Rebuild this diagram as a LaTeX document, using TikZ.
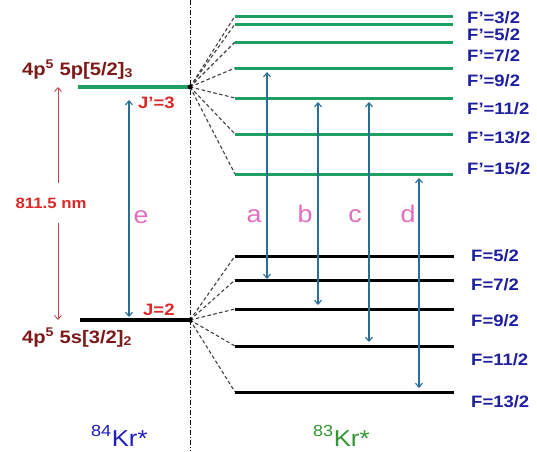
\documentclass[tikz,border=0pt]{standalone}
\usepackage{fontspec}
\setmainfont[FakeStretch=1.12]{Liberation Sans}
\usetikzlibrary{arrows.meta}
\definecolor{lvgreen}{RGB}{30,160,100}
\definecolor{maroon}{RGB}{125,25,25}
\definecolor{jred}{RGB}{220,40,40}
\definecolor{arrblue}{RGB}{40,110,150}
\definecolor{arrred}{RGB}{190,70,80}
\definecolor{flblue}{RGB}{30,30,160}
\definecolor{pinkl}{RGB}{225,110,190}
\definecolor{krblue}{RGB}{30,30,190}
\definecolor{krgreen}{RGB}{50,150,50}
\tikzset{
  upperlv/.style={draw=lvgreen, line width=3pt},
  lowerlv/.style={draw=black, line width=3pt},
  splitln/.style={draw=black!75, line width=1.1pt, dash pattern=on 3.5pt off 2.5pt},
  trans/.style={draw=arrblue, line width=1.1pt,
    arrows={Straight Barb[length=4pt,width=7pt]-Straight Barb[length=4pt,width=7pt]},
    shorten <=4pt, shorten >=4pt},
  flabel/.style={anchor=base west, inner sep=0, text=flblue,
    font=\bfseries\fontsize{16.5}{18}\selectfont},
  jlabel/.style={anchor=base west, inner sep=0, text=jred,
    font=\bfseries\fontsize{16.5}{18}\selectfont},
  statelabel/.style={anchor=base west, inner sep=0, text=maroon,
    font=\bfseries\fontsize{18}{20}\selectfont},
  letterlabel/.style={anchor=base, inner sep=0, text=pinkl,
    font=\fontsize{24}{26}\selectfont},
  krlabel/.style={anchor=base west, inner sep=0,
    font=\fontsize{23}{25}\selectfont},
}
\begin{document}
\begin{tikzpicture}[x=1pt,y=-1pt]
\useasboundingbox[fill=white] (0,0) rectangle (537,451);
% separator
\coordinate (sepT) at (190,0);
\coordinate (sepB) at (190,451);
\draw[black, line width=0.8pt, dash pattern=on 5pt off 2pt on 1pt off 2pt] (sepT) -- (sepB);
% junctions
\coordinate (jU) at (190,87);
\coordinate (jL) at (190,320);
\coordinate (uLeft) at (78,87);
\coordinate (lLeft) at (80,320);
% hyperfine levels
\foreach \n/\y in {1/16,2/24,3/42,4/68,5/98,6/134,7/174}{
  \coordinate (u\n L) at (235,\y);
  \coordinate (u\n R) at (453,\y);
}
\foreach \n/\y in {1/256,2/280,3/309,4/346,5/392}{
  \coordinate (l\n L) at (235,\y);
  \coordinate (l\n R) at (454,\y);
}
\foreach \n in {1,...,7}{
  \draw[splitln] (jU) -- (u\n L);
  \draw[upperlv] (u\n L) -- (u\n R);
}
\foreach \n in {1,...,5}{
  \draw[splitln] (jL) -- (l\n L);
  \draw[lowerlv] (l\n L) -- (l\n R);
}
% main levels
\draw[draw=lvgreen, line width=4pt] (uLeft) -- (jU);
\draw[draw=black, line width=4pt] (lLeft) -- (jL);
\fill[black] (jU) circle (2.4pt);
\fill[black] (jL) circle (2.4pt);
% hyperfine labels
\node[flabel] (f1) at (467,23) {F’=3/2};
\node[flabel] (f2) at (467,40) {F’=5/2};
\node[flabel] (f3) at (467,61) {F’=7/2};
\node[flabel] (f4) at (467,86) {F’=9/2};
\node[flabel] (f5) at (467,114) {F’=11/2};
\node[flabel] (f6) at (467,143) {F’=13/2};
\node[flabel] (f7) at (467,174) {F’=15/2};
\node[flabel] (g1) at (471,261) {F=5/2};
\node[flabel] (g2) at (471,290) {F=7/2};
\node[flabel] (g3) at (471,326) {F=9/2};
\node[flabel] (g4) at (471,365) {F=11/2};
\node[flabel] (g5) at (471,407) {F=13/2};
% left labels
\node[statelabel] (sU) at (22,75) {4p\textsuperscript{5} 5p[5/2]\textsubscript{3}};
\node[statelabel] (sL) at (22,343) {4p\textsuperscript{5} 5s[3/2]\textsubscript{2}};
\node[jlabel] (jUl) at (138,108) {J’=3};
\node[jlabel] (jLl) at (143,315) {J=2};
% red wavelength arrow
\coordinate (rT) at (58,87);
\coordinate (rB) at (58,320);
\draw[draw=arrred, line width=0.9pt,
  arrows={Straight Barb[length=4pt,width=7pt]-Straight Barb[length=4pt,width=7pt]}] (rT) -- (rB);
\node[fill=white, text=jred, font=\bfseries\fontsize{15}{17}\selectfont,
  minimum height=40pt, inner xsep=1pt] (wl) at (51,203) {811.5 nm};
% transition arrows
\coordinate (ce) at (129,0);
\coordinate (ca) at (267,0);
\coordinate (cb) at (318,0);
\coordinate (cc) at (369,0);
\coordinate (cd) at (419,0);
\draw[trans, shorten <=13pt, shorten >=3pt] (ce |- jU) -- (ce |- jL);
\draw[trans, shorten >=1pt] (ca |- u4L) -- (ca |- l2L);
\draw[trans] (cb |- u5L) -- (cb |- l3L);
\draw[trans] (cc |- u5L) -- (cc |- l4L);
\draw[trans] (cd |- u7L) -- (cd |- l5L);
\node[letterlabel] (le) at (141,223) {e};
\node[letterlabel] (la) at (254,222) {a};
\node[letterlabel] (lb) at (305,222) {b};
\node[letterlabel] (lc) at (355,222) {c};
\node[letterlabel] (ld) at (408,222) {d};
% isotope labels
\node[krlabel, text=krblue] (k84) at (91,446) {\textsuperscript{84}Kr*};
\node[krlabel, text=krgreen] (k83) at (313,446) {\textsuperscript{83}Kr*};
\end{tikzpicture}
\end{document}
